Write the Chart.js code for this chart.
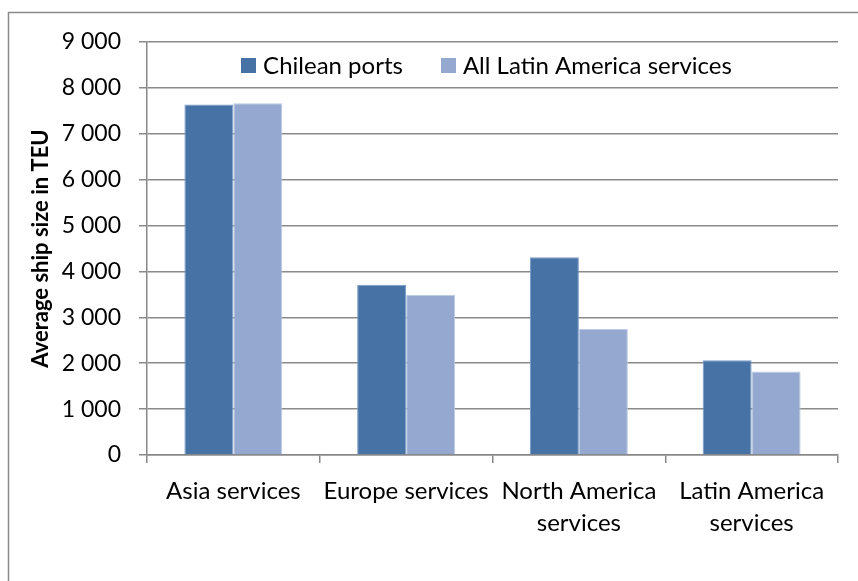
<!DOCTYPE html>
<html>
<head>
<meta charset="utf-8">
<script src="https://cdn.jsdelivr.net/npm/chart.js@4"></script>
<style>
  html, body { margin: 0; padding: 0; background: #ffffff; }
  #wrap { width: 858px; height: 581px; position: relative; }
</style>
</head>
<body>
<div id="wrap"><canvas id="c"></canvas></div>
<script>
const categories = [
  ['Asia services'],
  ['Europe services'],
  ['North America', 'services'],
  ['Latin America', 'services']
];
const seriesNames = ['Chilean ports', 'All Latin America services'];
const chileanPorts = [7637, 3712, 4308, 2067];
const allLatinAmerica = [7665, 3494, 2748, 1819];
const yAxisTitle = 'Average ship size in TEU';
const yMin = 0, yMax = 9000, yStep = 1000;

const FONT = 'Lato, "Open Sans", "DejaVu Sans", sans-serif';

const frame = {
  id: 'frame',
  beforeDraw(chart) {
    const ctx = chart.ctx;
    ctx.save();
    ctx.fillStyle = '#ffffff';
    ctx.fillRect(0, 0, chart.width, chart.height);
    ctx.strokeStyle = '#8a8a8a';
    ctx.lineWidth = 1.5;
    ctx.beginPath();
    ctx.moveTo(8.5, chart.height + 5);
    ctx.lineTo(8.5, 12.5);
    ctx.lineTo(chart.width + 5, 12.5);
    ctx.stroke();
    ctx.restore();
  }
};

// Legend drawn inside the plot area, centred, like the original
const innerLegend = {
  id: 'innerLegend',
  afterDatasetsDraw(chart) {
    const ctx = chart.ctx;
    const area = chart.chartArea;
    const size = 24;
    const box = 15, gap = 7, spacing = 38;
    ctx.save();
    ctx.font = size + 'px ' + FONT;
    const items = chart.data.datasets.map(ds => ({
      text: ds.label, color: ds.backgroundColor, w: box + gap + ctx.measureText(ds.label).width
    }));
    const total = items.reduce((s, it) => s + it.w, 0) + spacing * (items.length - 1);
    let x = (area.left + area.right) / 2 - total / 2 - 6;
    const cy = 65;
    ctx.textBaseline = 'middle';
    ctx.textAlign = 'left';
    items.forEach(it => {
      ctx.fillStyle = it.color;
      ctx.fillRect(Math.round(x), Math.round(cy - box / 2), box, box);
      ctx.fillStyle = '#000000';
      ctx.fillText(it.text, x + box + gap, cy + 1);
      x += it.w + spacing;
    });
    ctx.restore();
  }
};

new Chart(document.getElementById('c'), {
  type: 'bar',
  data: {
    labels: categories,
    datasets: [
      {
        label: seriesNames[0],
        data: chileanPorts,
        backgroundColor: '#4672A6',
        borderColor: '#7a9cc6',
        borderWidth: 1
      },
      {
        label: seriesNames[1],
        data: allLatinAmerica,
        backgroundColor: '#95A9D0',
        borderColor: '#bccbe4',
        borderWidth: 1
      }
    ]
  },
  options: {
    responsive: true,
    maintainAspectRatio: false,
    animation: false,
    devicePixelRatio: 1,
    layout: { padding: { left: 16, right: 20, top: 42, bottom: 0 } },
    datasets: { bar: { categoryPercentage: 0.567, barPercentage: 1.0 } },
    plugins: {
      legend: { display: false },
      tooltip: { enabled: false }
    },
    scales: {
      x: {
        grid: {
          drawOnChartArea: false,
          drawTicks: true,
          tickLength: 8,
          color: '#888888',
          lineWidth: 1.5,
          offset: true
        },
        border: { display: true, color: '#888888', width: 1.5 },
        ticks: {
          font: { family: FONT, size: 24, lineHeight: 1.35 },
          color: '#000000',
          maxRotation: 0,
          autoSkip: false,
          padding: 12
        },
        afterFit(scale) { scale.height = 581 - 455; }
      },
      y: {
        min: yMin,
        max: yMax,
        grid: {
          color: '#8a8a8a',
          lineWidth: 1.5,
          drawTicks: true,
          tickLength: 8
        },
        border: { display: true, color: '#888888', width: 1.5 },
        ticks: {
          stepSize: yStep,
          font: { family: FONT, size: 23 },
          color: '#000000',
          padding: 18,
          callback: (v) => String(v).replace(/\B(?=(\d{3})+(?!\d))/g, ' ')
        },
        title: {
          display: true,
          text: yAxisTitle,
          font: { family: FONT, size: 22, weight: 'bold' },
          color: '#000000',
          padding: { top: 12, bottom: 0 }
        },
        afterFit(scale) { scale.width = 147 - 16; }
      }
    }
  },
  plugins: [frame, innerLegend]
});
</script>
</body>
</html>
